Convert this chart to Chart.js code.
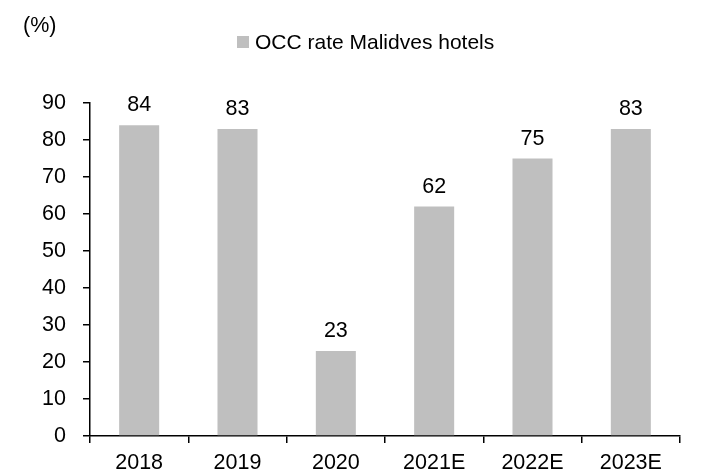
<!DOCTYPE html>
<html>
<head>
<meta charset="utf-8">
<script src="https://cdn.jsdelivr.net/npm/chart.js@4"></script>
<style>
  html, body { margin: 0; padding: 0; background: #fff; }
  #wrap { width: 708px; height: 473px; }
</style>
</head>
<body>
<div id="wrap"><canvas id="grafico" width="708" height="473"></canvas></div>
<script>
const anos = ['2018', '2019', '2020', '2021E', '2022E', '2023E'];
const ocupacao = [84, 83, 23, 62, 75, 83];
const ticksY = [0, 10, 20, 30, 40, 50, 60, 70, 80, 90];
const nomeSerie = 'OCC rate Malidves hotels';
const unidade = '(%)';

const fonte = "'Liberation Sans', Arial, sans-serif";
const corBarra = '#bfbfbf';

// rótulos de valor acima das barras + legenda e unidade no topo
const extras = {
  id: 'extras',
  afterDatasetsDraw(chart) {
    const ctx = chart.ctx;
    ctx.save();
    ctx.fillStyle = '#000';
    ctx.font = '21.5px ' + fonte;
    ctx.textAlign = 'center';
    ctx.textBaseline = 'alphabetic';
    chart.getDatasetMeta(0).data.forEach((bar, i) => {
      ctx.fillText(String(chart.data.datasets[0].data[i]), bar.x, bar.y - 14);
    });

    ctx.textAlign = 'left';
    ctx.textBaseline = 'middle';
    ctx.fillText(unidade, 23, 26);

    ctx.font = '21px ' + fonte;
    ctx.fillStyle = chart.data.datasets[0].backgroundColor;
    ctx.fillRect(237, 36, 12, 12);
    ctx.fillStyle = '#000';
    ctx.fillText(chart.data.datasets[0].label, 255, 43);
    ctx.restore();
  }
};

new Chart(document.getElementById('grafico'), {
  type: 'bar',
  data: {
    labels: anos,
    datasets: [{
      label: nomeSerie,
      data: ocupacao,
      backgroundColor: corBarra,
      borderWidth: 0,
      barPercentage: 0.407,
      categoryPercentage: 1
    }]
  },
  options: {
    responsive: false,
    animation: false,
    layout: { padding: { left: 0, right: 28, top: 103, bottom: 0 } },
    plugins: {
      legend: { display: false },
      tooltip: { enabled: false }
    },
    scales: {
      x: {
        afterFit: s => { s.height = 37; },
        grid: { drawOnChartArea: false, drawTicks: true, tickLength: 7, color: '#000', lineWidth: 1.5 },
        border: { display: true, color: '#000', width: 1.5 },
        ticks: { color: '#000', font: { family: fonte, size: 21.5 }, padding: 7, maxRotation: 0 }
      },
      y: {
        min: 0,
        max: 90,
        afterFit: s => { s.width = 90; },
        afterBuildTicks: s => { s.ticks = ticksY.map(v => ({ value: v })); },
        grid: { drawOnChartArea: false, drawTicks: true, tickLength: 7, color: '#000', lineWidth: 1.5 },
        border: { display: true, color: '#000', width: 1.5 },
        ticks: { color: '#000', font: { family: fonte, size: 21.5 }, padding: 17 }
      }
    }
  },
  plugins: [extras]
});
</script>
</body>
</html>
